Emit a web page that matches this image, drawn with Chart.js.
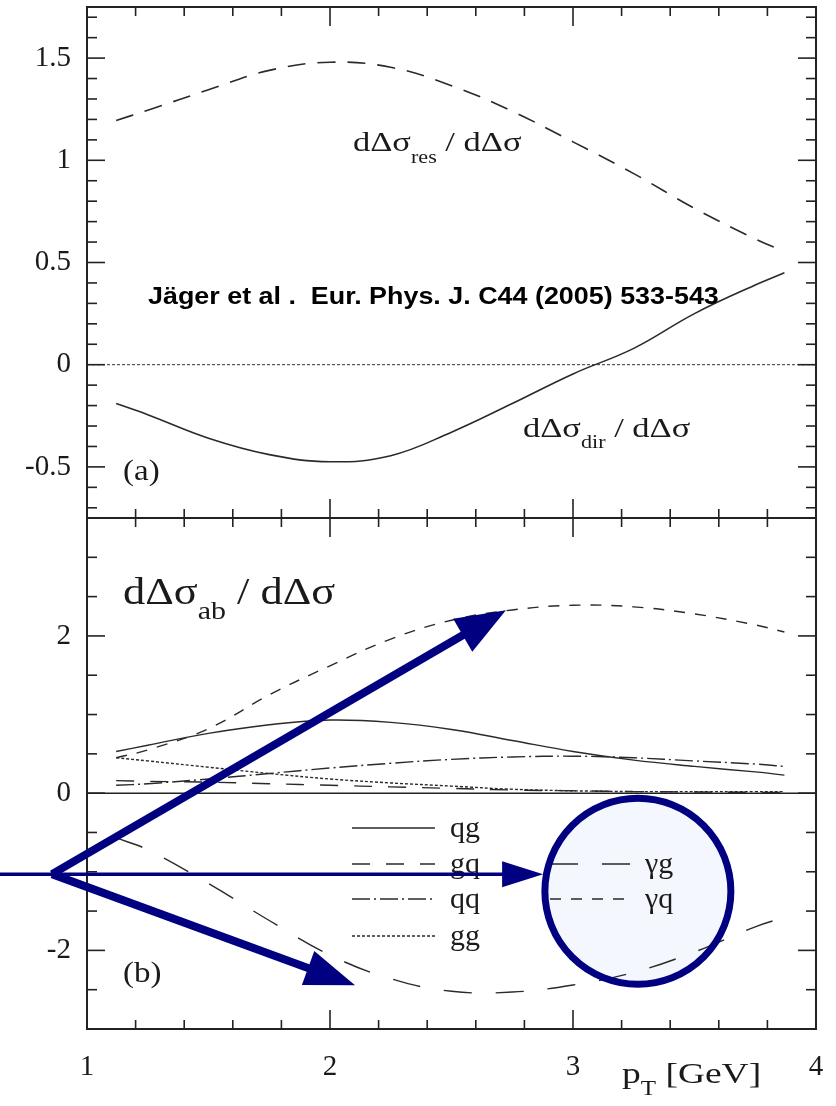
<!DOCTYPE html>
<html>
<head>
<meta charset="utf-8">
<title>dΔσ fractions vs pT</title>
<script src="https://cdn.jsdelivr.net/npm/chart.js@4"></script>
<style>
  html, body { margin: 0; padding: 0; background: #fff; }
  #wrap { position: relative; width: 836px; height: 1106px; }
  #topPanel { position: absolute; left: 0; top: 0; }
  #bottomPanel { position: absolute; left: 0; top: 510px; }
</style>
</head>
<body>
<div id="wrap">
  <canvas id="topPanel" width="836" height="522"></canvas>
  <canvas id="bottomPanel" width="836" height="596"></canvas>
</div>
<script>
// pT grid (GeV) shared by all curves
const pT = [1.12, 1.25, 1.5, 1.75, 2.0, 2.25, 2.5, 2.75, 3.0, 3.25, 3.5, 3.75, 3.87];

// (a) resolved and direct fractions
const resFrac = [1.195, 1.245, 1.345, 1.44, 1.48, 1.455, 1.365, 1.24, 1.09, 0.935, 0.765, 0.615, 0.555];
const dirFrac = [-0.19, -0.245, -0.36, -0.44, -0.475, -0.445, -0.33, -0.19, -0.045, 0.08, 0.25, 0.39, 0.45];

// (b) subprocess fractions
const qgFrac   = [0.53, 0.61, 0.76, 0.87, 0.93, 0.90, 0.81, 0.67, 0.53, 0.42, 0.34, 0.27, 0.23];
const gqFrac   = [0.16, 0.15, 0.14, 0.12, 0.10, 0.08, 0.06, 0.04, 0.03, 0.02, 0.015, 0.01, 0.01];
const qqFrac   = [0.10, 0.12, 0.18, 0.25, 0.32, 0.38, 0.43, 0.46, 0.47, 0.45, 0.41, 0.37, 0.34];
const ggFrac   = [0.45, 0.41, 0.33, 0.25, 0.18, 0.13, 0.09, 0.05, 0.03, 0.02, 0.02, 0.02, 0.02];
const gamGFrac = [-0.57, -0.72, -1.15, -1.62, -2.06, -2.36, -2.52, -2.53, -2.44, -2.28, -2.02, -1.70, -1.58];
const gamQFrac = [0.45, 0.55, 0.82, 1.25, 1.62, 1.96, 2.20, 2.33, 2.39, 2.37, 2.28, 2.14, 2.05];

// axis labels
const xTicks = [1, 2, 3, 4];
const yTicksTop = [-0.5, 0, 0.5, 1, 1.5];
const yTicksBottom = [-2, 0, 2];

const SERIF = '"Liberation Serif", "Times New Roman", serif';
const INK = '#1a1a1a';

function pts(ys) {
  return pT.map((x, i) => ({ x: x, y: ys[i] }));
}

function curve(label, ys, dash, width) {
  return {
    label: label,
    data: pts(ys),
    borderColor: '#2a2a2a',
    borderWidth: width || 1.4,
    borderDash: dash,
    pointRadius: 0,
    fill: false,
    tension: 0.4
  };
}

// text with a subscript run (dΔσ_res / dΔσ), widened by sx
function drawRich(ctx, x, y, sx, runs) {
  ctx.save();
  ctx.translate(x, y);
  ctx.scale(sx, 1);
  let cx = 0;
  for (const [t, size, dy] of runs) {
    ctx.font = size + 'px ' + SERIF;
    ctx.fillText(t, cx, dy);
    cx += ctx.measureText(t).width;
  }
  ctx.restore();
}

function line(ctx, x1, y1, x2, y2) {
  ctx.beginPath();
  ctx.moveTo(x1, y1);
  ctx.lineTo(x2, y2);
  ctx.stroke();
}

// boxed frame with inward ticks on all four sides
function frameTicks(yFrom, yTo, yMinor, yMajorList) {
  return {
    id: 'frameTicks',
    afterDatasetsDraw(chart) {
      const ctx = chart.ctx;
      const { left, right, top, bottom } = chart.chartArea;
      const xs = chart.scales.x, ys = chart.scales.y;
      ctx.save();
      ctx.strokeStyle = '#222';
      ctx.lineWidth = 1.6;
      for (let i = 0; i <= 15; i++) {
        const v = 1 + i * 0.2;
        const px = xs.getPixelForValue(v);
        const len = (i % 5 === 0) ? 19 : 9;
        line(ctx, px, bottom, px, bottom - len);
        line(ctx, px, top, px, top + len);
      }
      const n = Math.round((yTo - yFrom) / yMinor);
      for (let i = 0; i <= n; i++) {
        const v = yFrom + i * yMinor;
        const py = ys.getPixelForValue(v);
        const major = yMajorList.some(m => Math.abs(m - v) < 1e-6);
        const len = major ? 18 : 10;
        line(ctx, left, py, left + len, py);
        line(ctx, right, py, right - len, py);
      }
      ctx.lineWidth = 2;
      ctx.strokeRect(left, top, right - left, bottom - top);
      ctx.restore();
    }
  };
}

function yAxis(min, max, ticks) {
  return {
    type: 'linear',
    min: min,
    max: max,
    grid: { display: false, drawTicks: false },
    border: { display: false },
    afterFit: s => { s.width = 87; s.paddingTop = 0; s.paddingBottom = 0; },
    afterBuildTicks: s => { s.ticks = ticks.map(v => ({ value: v })); },
    ticks: {
      font: { family: SERIF, size: 29 },
      color: INK,
      padding: 16,
      callback: v => String(v)
    }
  };
}

// ---------- (a) ----------

const topLabels = {
  id: 'topLabels',
  beforeDatasetsDraw(chart) {
    const ctx = chart.ctx;
    const { left, right } = chart.chartArea;
    const y0 = chart.scales.y.getPixelForValue(0);
    ctx.save();
    ctx.strokeStyle = '#333';
    ctx.lineWidth = 1;
    ctx.setLineDash([3, 2]);
    line(ctx, left, y0, right, y0);
    ctx.restore();
  },
  afterDraw(chart) {
    const ctx = chart.ctx;
    ctx.save();
    ctx.fillStyle = INK;
    ctx.textBaseline = 'alphabetic';
    drawRich(ctx, 353, 151, 1.23, [['dΔσ', 28, 0], ['res', 18, 12], [' / dΔσ', 28, 0]]);
    drawRich(ctx, 523, 437, 1.23, [['dΔσ', 28, 0], ['dir', 18, 11], [' / dΔσ', 28, 0]]);
    drawRich(ctx, 123, 480, 1.1, [['(a)', 30, 0]]);
    ctx.fillStyle = '#000';
    ctx.translate(148, 304);
    ctx.scale(1.12, 1);
    ctx.font = 'bold 24px "Liberation Sans", Arial, sans-serif';
    ctx.fillText('Jäger et al .  Eur. Phys. J. C44 (2005) 533-543', 0, 0);
    ctx.restore();
  }
};

new Chart(document.getElementById('topPanel'), {
  type: 'line',
  data: {
    datasets: [
      curve('dΔσres / dΔσ', resFrac, [18, 12], 1.6),
      curve('dΔσdir / dΔσ', dirFrac, [], 1.6)
    ]
  },
  options: {
    responsive: false,
    animation: false,
    layout: { padding: { left: 0, right: 20, top: 7, bottom: 4 } },
    plugins: { legend: { display: false }, tooltip: { enabled: false } },
    scales: {
      x: { type: 'linear', min: 1, max: 4, display: false },
      y: yAxis(-0.75, 1.75, yTicksTop)
    }
  },
  plugins: [topLabels, frameTicks(-0.7, 1.7, 0.1, yTicksTop)]
});

// ---------- (b) ----------

// legend rows: dataset index, line start/end x, row y (canvas px)
const legendRows = [
  [0, 352, 435, 318], [1, 352, 435, 354], [2, 352, 435, 389], [3, 352, 435, 426],
  [4, 550, 630, 354], [5, 550, 630, 389]
];

const NAVY = '#000080';

function arrow(ctx, x1, y1, x2, y2, width, headLen, headHalf) {
  const dx = x2 - x1, dy = y2 - y1;
  const L = Math.hypot(dx, dy);
  const ux = dx / L, uy = dy / L;
  const bx = x2 - ux * headLen, by = y2 - uy * headLen;
  ctx.lineWidth = width;
  line(ctx, x1, y1, bx + ux * 2, by + uy * 2);
  ctx.beginPath();
  ctx.moveTo(x2, y2);
  ctx.lineTo(bx - uy * headHalf, by + ux * headHalf);
  ctx.lineTo(bx + uy * headHalf, by - ux * headHalf);
  ctx.closePath();
  ctx.fill();
}

const bottomDecor = {
  id: 'bottomDecor',
  beforeDatasetsDraw(chart) {
    const ctx = chart.ctx;
    const xs = chart.scales.x, ys = chart.scales.y;
    const { left, right } = chart.chartArea;
    ctx.save();
    // highlight disc behind the photon legend
    ctx.fillStyle = '#f5f7fe';
    ctx.beginPath();
    ctx.arc(xs.getPixelForValue(3.267), ys.getPixelForValue(-1.247), 93, 0, Math.PI * 2);
    ctx.fill();
    // zero line
    const y0 = ys.getPixelForValue(0);
    ctx.strokeStyle = '#222';
    ctx.lineWidth = 1.5;
    line(ctx, left, y0, right, y0);
    ctx.restore();
  },
  afterDatasetsDraw(chart) {
    const ctx = chart.ctx;
    ctx.save();
    ctx.textBaseline = 'alphabetic';
    for (const [idx, x1, x2, y] of legendRows) {
      const ds = chart.data.datasets[idx];
      ctx.strokeStyle = ds.borderColor;
      ctx.lineWidth = 1.4;
      ctx.setLineDash(ds.borderDash);
      line(ctx, x1, y, x2, y);
      ctx.setLineDash([]);
      ctx.fillStyle = INK;
      ctx.font = '30px ' + SERIF;
      ctx.fillText(ds.label, x2 + 15, y + 9);
    }
    ctx.restore();
  },
  afterDraw(chart) {
    const ctx = chart.ctx;
    const xs = chart.scales.x, ys = chart.scales.y;
    ctx.save();
    ctx.fillStyle = INK;
    drawRich(ctx, 123, 94, 1.2, [['dΔσ', 37, 0], ['ab', 25, 15], [' / dΔσ', 37, 0]]);
    drawRich(ctx, 123, 472, 1.1, [['(b)', 30, 0]]);
    drawRich(ctx, 622, 573, 1.25, [['p', 30, 0], ['T', 20, 12], [' [GeV]', 30, 0]]);

    // arrows and ring
    ctx.strokeStyle = NAVY;
    ctx.fillStyle = NAVY;
    ctx.lineCap = 'butt';
    const ox = xs.getPixelForValue(0.856), oy = ys.getPixelForValue(-1.03);
    ctx.lineWidth = 3.5;
    line(ctx, 0, oy, ox, oy);
    arrow(ctx, ox, oy, xs.getPixelForValue(2.877), oy, 3.5, 41, 13);
    arrow(ctx, ox, oy, xs.getPixelForValue(2.724), ys.getPixelForValue(2.328), 8, 50, 19);
    arrow(ctx, ox, oy, xs.getPixelForValue(2.103), ys.getPixelForValue(-2.443), 8, 50, 18);
    ctx.lineWidth = 7;
    ctx.beginPath();
    ctx.arc(xs.getPixelForValue(3.267), ys.getPixelForValue(-1.247), 93, 0, Math.PI * 2);
    ctx.stroke();
    ctx.restore();
  }
};

new Chart(document.getElementById('bottomPanel'), {
  type: 'line',
  data: {
    datasets: [
      curve('qg', qgFrac, []),
      curve('gq', gqFrac, [18, 16]),
      curve('qq', qqFrac, [18, 4, 2, 4]),
      curve('gg', ggFrac, [3, 2]),
      curve('γg', gamGFrac, [28, 24]),
      curve('γq', gamQFrac, [11, 10])
    ]
  },
  options: {
    responsive: false,
    animation: false,
    layout: { padding: { left: 0, right: 20, top: 8, bottom: 0 } },
    plugins: { legend: { display: false }, tooltip: { enabled: false } },
    scales: {
      x: {
        type: 'linear',
        min: 1,
        max: 4,
        grid: { display: false, drawTicks: false },
        border: { display: false },
        afterFit: s => { s.height = 77; s.paddingLeft = 0; s.paddingRight = 0; },
        afterBuildTicks: s => { s.ticks = xTicks.map(v => ({ value: v })); },
        ticks: {
          font: { family: SERIF, size: 29 },
          color: INK,
          padding: 21,
          maxRotation: 0,
          autoSkip: false,
          callback: v => String(v)
        }
      },
      y: yAxis(-3, 3.5, yTicksBottom)
    }
  },
  plugins: [bottomDecor, frameTicks(-2.5, 3.0, 0.5, yTicksBottom)]
});
</script>
</body>
</html>
